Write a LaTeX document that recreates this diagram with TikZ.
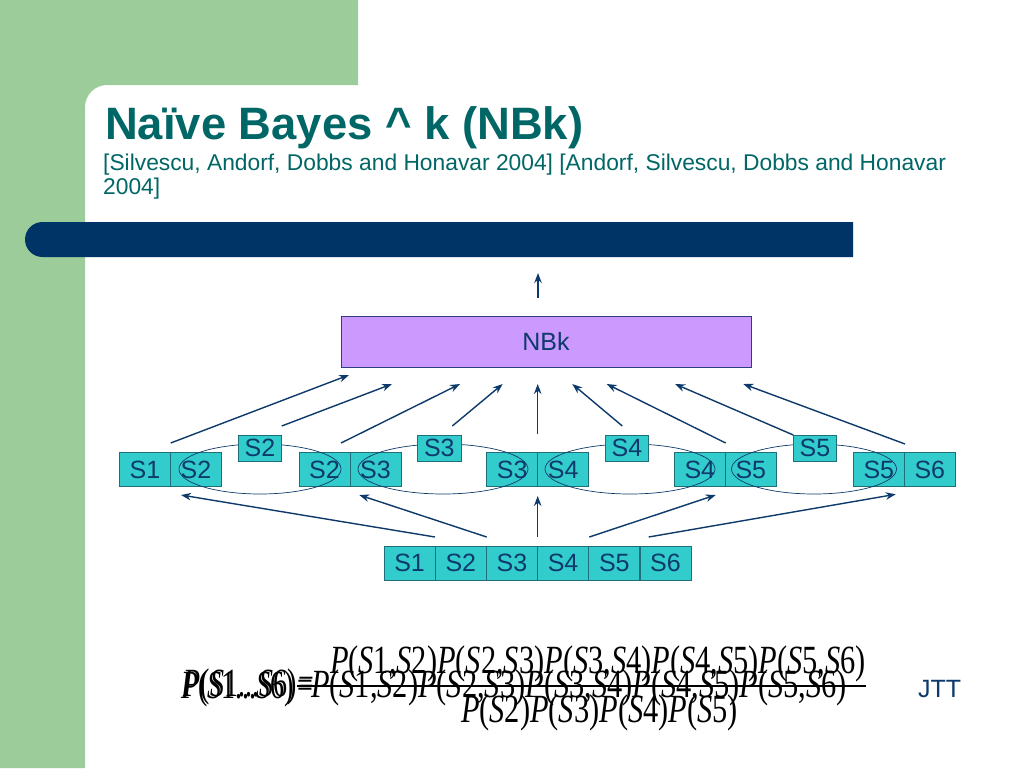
\documentclass[tikz,border=0pt]{standalone}
\usepackage{fontspec}
\setmainfont{Liberation Sans}
\newfontfamily\tnr{Liberation Serif}
\usetikzlibrary{arrows.meta}
\definecolor{leafgreen}{HTML}{9CCC9A}
\definecolor{barblue}{HTML}{003366}
\definecolor{titleteal}{HTML}{006666}
\definecolor{cellfill}{HTML}{33CCCC}
\definecolor{cellline}{HTML}{1F6F7A}
\definecolor{navy}{HTML}{0D3A6B}
\definecolor{nbkfill}{HTML}{CC99FF}
\definecolor{nbkline}{HTML}{2E3F7F}
\newcommand{\fml}[1]{\scalebox{0.76}[1]{\tnr\fontsize{40}{40}\selectfont #1}}
\newcommand{\fmlnarrow}[1]{\scalebox{0.70}[1]{\tnr\fontsize{40}{40}\selectfont #1}}
\newcommand{\pp}[2]{\textit{P}(\textit{S}#1,\textit{S}#2)}
\newcommand{\ps}[1]{\textit{P}(\textit{S}#1)}
\newcommand{\lhs}{\textit{P}(\textit{S}1...\textit{S}6)}
\begin{document}
\begin{tikzpicture}[x=1pt,y=-1pt,
  cell/.style={draw=cellline, fill=cellfill, line width=0.8pt, minimum width=51pt, minimum height=34pt, inner sep=0pt, text=navy, font=\fontsize{25}{25}\selectfont},
  sepbox/.style={cell, minimum width=43.4pt, minimum height=26pt},
  arr/.style={draw=navy, line width=1.4pt, -{Stealth[length=10pt,width=7.5pt]}},
  ell/.style={draw=navy, line width=0.7pt},
  fnode/.style={inner sep=0pt, outer sep=0pt}]
\useasboundingbox (0,0) rectangle (1024,768);
\fill[white] (0,0) rectangle (1024,768);
% background decoration
\fill[leafgreen] (0,0) -- (358,0) -- (358,85) -- (107,85) arc[start angle=270, end angle=180, radius=22] -- (85,768) -- (0,768) -- cycle;
\fill[barblue] (853,222) -- (42.5,222) arc[start angle=270, end angle=90, radius=17.5] -- (853,257) -- cycle;
% title
\node[anchor=base west, inner sep=0pt, text=titleteal, font=\bfseries\fontsize{45.4}{50}\selectfont] (title) at (105,139.5) {Naïve Bayes \textasciicircum\ k (NBk)};
\node[anchor=base west, inner sep=0pt, text=titleteal, font=\fontsize{22.8}{25}\selectfont] (sub1) at (103,170) {[Silvescu, Andorf, Dobbs and Honavar 2004] [Andorf, Silvescu, Dobbs and Honavar};
\node[anchor=base west, inner sep=0pt, text=titleteal, font=\fontsize{22.8}{25}\selectfont] (sub2) at (103,194) {2004]};
% NBk box
\node[draw=nbkline, fill=nbkfill, line width=1pt, minimum width=410pt, minimum height=51pt, inner sep=0pt, text=navy, font=\fontsize{25}{25}\selectfont] (nbk) at (546,341.5) {NBk};
% middle row
\node[cell] (m1a) at (145,469.5) {S1};
\node[cell] (m1b) at (196,469.5) {S2};
\node[cell] (m2a) at (324.5,469.5) {S2};
\node[cell] (m2b) at (375.5,469.5) {S3};
\node[cell] (m3a) at (512.2,469.5) {S3};
\node[cell] (m3b) at (563.2,469.5) {S4};
\node[cell] (m4a) at (699.8,469.5) {S4};
\node[cell] (m4b) at (750.8,469.5) {S5};
\node[cell] (m5a) at (878.8,469.5) {S5};
\node[cell] (m5b) at (929.8,469.5) {S6};
% ellipses
\draw[ell] (260,469) ellipse [x radius=81, y radius=25];
\draw[ell] (443,469) ellipse [x radius=85, y radius=25];
\draw[ell] (630,469) ellipse [x radius=85, y radius=25];
\draw[ell] (814,469) ellipse [x radius=82.5, y radius=25];
% separator boxes
\node[sepbox] (s2) at (260,448) {S2};
\node[sepbox] (s3) at (439.3,448) {S3};
\node[sepbox] (s4) at (627,448) {S4};
\node[sepbox] (s5) at (815,448) {S5};
% bottom row
\node[cell] (b1) at (409.6,563) {S1};
\node[cell] (b2) at (460.8,563) {S2};
\node[cell] (b3) at (512.0,563) {S3};
\node[cell] (b4) at (563.1,563) {S4};
\node[cell] (b5) at (614.3,563) {S5};
\node[cell] (b6) at (665.5,563) {S6};
% connector end points
\coordinate (topS) at (538,298); \coordinate (topE) at (538,273);
\coordinate (u1s) at (170.7,443); \coordinate (u1e) at (349,375);
\coordinate (u2s) at (281.7,426); \coordinate (u2e) at (392,384);
\coordinate (u3s) at (341,443);   \coordinate (u3e) at (460,384);
\coordinate (u4s) at (452.3,426); \coordinate (u4e) at (502.7,384);
\coordinate (u5s) at (537.7,434); \coordinate (u5e) at (537.7,384);
\coordinate (u6s) at (622.3,426); \coordinate (u6e) at (572.3,384);
\coordinate (u7s) at (725.7,443); \coordinate (u7e) at (606.7,384);
\coordinate (u8s) at (793.3,435); \coordinate (u8e) at (675,384);
\coordinate (u9s) at (905,444);   \coordinate (u9e) at (743.3,384);
\coordinate (d1s) at (435,537);   \coordinate (d1e) at (181,495);
\coordinate (d2s) at (486.7,537); \coordinate (d2e) at (359.3,495);
\coordinate (d3s) at (537.7,537); \coordinate (d3e) at (537.7,496);
\coordinate (d4s) at (589.3,537); \coordinate (d4e) at (715.7,495);
\coordinate (d5s) at (648.7,537); \coordinate (d5e) at (895.7,494.3);
\draw[arr] (topS) -- (topE);
\foreach \i in {1,...,9} { \draw[arr] (u\i s) -- (u\i e); }
\foreach \i in {1,...,5} { \draw[arr] (d\i s) -- (d\i e); }
% formula (overlapping renderings, as printed)
\node[fnode, anchor=base east] (lhsA) at (294,698) {\fmlnarrow{\lhs}};
\node[fnode, anchor=base east] (lhsB) at (296.5,696) {\fmlnarrow{\lhs}};
\node[fnode, anchor=base west] (eqA) at (297,698) {\fmlnarrow{=}};
\node[fnode, anchor=base west] (eqB) at (298.5,695.5) {\fmlnarrow{=}};
\node[fnode, anchor=base west] (numA) at (330,673) {\fml{\pp12\pp23\pp34\pp45\pp56}};
\node[fnode, anchor=base west] (numB) at (311,697) {\fml{\pp12\pp23\pp34\pp45\pp56}};
\coordinate (barL) at (297,686); \coordinate (barR) at (866,686);
\draw[line width=1.3pt] (barL) -- (barR);
\node[fnode, anchor=base west] (den) at (461,722) {\fml{\ps2\ps3\ps4\ps5}};
\node[fnode, anchor=base west, text=navy, font=\fontsize{25}{25}\selectfont] (jtt) at (918,697) {JTT};
\end{tikzpicture}
\end{document}
